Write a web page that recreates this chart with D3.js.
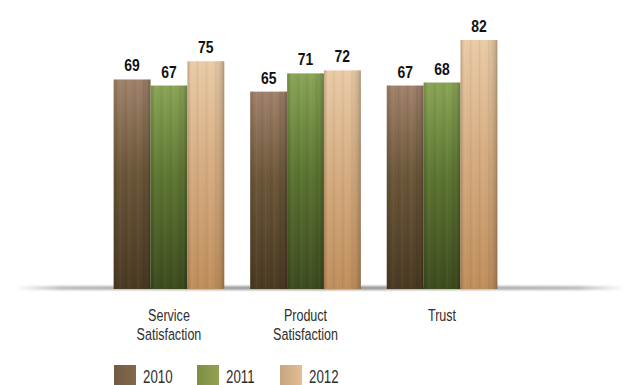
<!DOCTYPE html>
<html>
<head>
<meta charset="utf-8">
<script src="https://cdn.jsdelivr.net/npm/d3@7"></script>
<style>
  html, body { margin: 0; padding: 0; background: #ffffff; }
  svg { display: block; }
</style>
</head>
<body>
<svg id="chart" width="627" height="385"></svg>
<script>
// Survey scores by category and year
const categories = ["Service Satisfaction", "Product Satisfaction", "Trust"];
const categoryLines = [["Service", "Satisfaction"], ["Product", "Satisfaction"], ["Trust"]];
const years = ["2010", "2011", "2012"];
const values2010 = [69, 65, 67];
const values2011 = [67, 71, 68];
const values2012 = [75, 72, 82];
const seriesValues = [values2010, values2011, values2012];

const W = 627, H = 385;
const baseY = 289;
const font = "'Liberation Sans', Arial, sans-serif";
const svg = d3.select("#chart");
const defs = svg.append("defs");

// Condensed text: horizontally squeezed around its anchor point
function condensedText(parent, x, y, sx) {
  return parent.append("g").attr("transform", `translate(${x},${y}) scale(${sx},1)`)
    .append("text");
}

// Vertical gradients (lighter top, darker bottom) per year
const palette = [
  { top: "#a0826a", mid: "#6b5639", bot: "#4a3a22", swatch: "#7c6446" },
  { top: "#8aa456", mid: "#5d7632", bot: "#3d4b1f", swatch: "#8a9a4c" },
  { top: "#e9cba6", mid: "#d6ad82", bot: "#bf8e5c", swatch: "#d8b48c" }
];
palette.forEach((p, i) => {
  const g = defs.append("linearGradient").attr("id", "grad" + i)
    .attr("x1", 0).attr("y1", 0).attr("x2", 0).attr("y2", 1);
  g.append("stop").attr("offset", "0%").attr("stop-color", p.top);
  g.append("stop").attr("offset", "45%").attr("stop-color", p.mid);
  g.append("stop").attr("offset", "100%").attr("stop-color", p.bot);
  const s = defs.append("linearGradient").attr("id", "sw" + i)
    .attr("x1", 0).attr("y1", 0).attr("x2", 1).attr("y2", 0);
  s.append("stop").attr("offset", "0%").attr("stop-color", d3.color(p.swatch).darker(0.25));
  s.append("stop").attr("offset", "100%").attr("stop-color", d3.color(p.swatch).brighter(0.15));
});

// Horizontal shading across each bar
const shade = defs.append("linearGradient").attr("id", "shade")
  .attr("x1", 0).attr("y1", 0).attr("x2", 1).attr("y2", 0);
[["0%", 0.12], ["10%", 0.0], ["75%", 0.0], ["92%", 0.12], ["100%", 0.25]].forEach(([o, a]) =>
  shade.append("stop").attr("offset", o).attr("stop-color", "#000").attr("stop-opacity", a));

// Faint vertical striping
const stripes = defs.append("pattern").attr("id", "stripes")
  .attr("patternUnits", "userSpaceOnUse").attr("width", 9).attr("height", 10);
stripes.append("rect").attr("x", 2).attr("width", 1.5).attr("height", 10)
  .attr("fill", "#000").attr("opacity", 0.06);
stripes.append("rect").attr("x", 6).attr("width", 1).attr("height", 10)
  .attr("fill", "#fff").attr("opacity", 0.05);

// Ground line shadow
const ground = defs.append("linearGradient").attr("id", "ground")
  .attr("x1", 0).attr("y1", 0).attr("x2", 1).attr("y2", 0);
[["0%", 0], ["8%", 0.45], ["50%", 0.75], ["92%", 0.45], ["100%", 0]].forEach(([o, a]) =>
  ground.append("stop").attr("offset", o).attr("stop-color", "#6a6a6a").attr("stop-opacity", a));
defs.append("filter").attr("id", "blur").attr("x", "-5%").attr("y", "-200%")
  .attr("width", "110%").attr("height", "500%")
  .append("feGaussianBlur").attr("stdDeviation", 1.2);

svg.append("rect").attr("x", 15).attr("y", baseY - 3).attr("width", 610).attr("height", 4)
  .attr("fill", "url(#ground)").attr("filter", "url(#blur)");

// Scales
const x0 = d3.scaleBand().domain(categories).range([100, 511])
  .paddingInner(0.19).paddingOuter(0.1);
const x1 = d3.scaleBand().domain(years).range([0, x0.bandwidth()]).padding(0);
const y = d3.scaleLinear().domain([0, 82]).range([baseY, 40]);

const groups = svg.append("g").selectAll("g").data(categories).join("g")
  .attr("transform", d => `translate(${x0(d)},0)`);

groups.each(function (cat, ci) {
  const g = d3.select(this);
  years.forEach((yr, si) => {
    const v = seriesValues[si][ci];
    const bx = x1(yr), bw = x1.bandwidth();
    const by = y(v), bh = baseY - y(v);
    g.append("rect").attr("x", bx).attr("y", by).attr("width", bw).attr("height", bh)
      .attr("fill", `url(#grad${si})`);
    g.append("rect").attr("x", bx).attr("y", by).attr("width", bw).attr("height", bh)
      .attr("fill", "url(#stripes)");
    g.append("rect").attr("x", bx).attr("y", by).attr("width", bw).attr("height", bh)
      .attr("fill", "url(#shade)");
    condensedText(g, bx + bw / 2, by - 8, 0.82)
      .attr("text-anchor", "middle")
      .attr("font-family", font)
      .attr("font-weight", "bold").attr("font-size", 17)
      .attr("fill", "#111")
      .text(v);
  });
});

// Category labels
categories.forEach((c, i) => {
  const cx = x0(c) + x0.bandwidth() / 2;
  categoryLines[i].forEach((line, li) =>
    condensedText(svg, cx, 321 + li * 19, 0.76)
      .attr("text-anchor", "middle")
      .attr("font-family", font).attr("font-size", 16.5).attr("fill", "#2e2e2e")
      .text(line));
});

// Legend
const legendX = d3.scalePoint().domain(years).range([114, 280]);
const leg = svg.append("g").selectAll("g").data(years).join("g")
  .attr("transform", d => `translate(${legendX(d)},365)`);
leg.append("rect").attr("width", 22).attr("height", 22)
  .attr("fill", (d, i) => `url(#sw${i})`);
leg.each(function () {
  const d = d3.select(this).datum();
  condensedText(d3.select(this), 29, 17.5, 0.7)
    .attr("font-family", font).attr("font-size", 19).attr("fill", "#2e2e2e")
    .text(d);
});
</script>
</body>
</html>
